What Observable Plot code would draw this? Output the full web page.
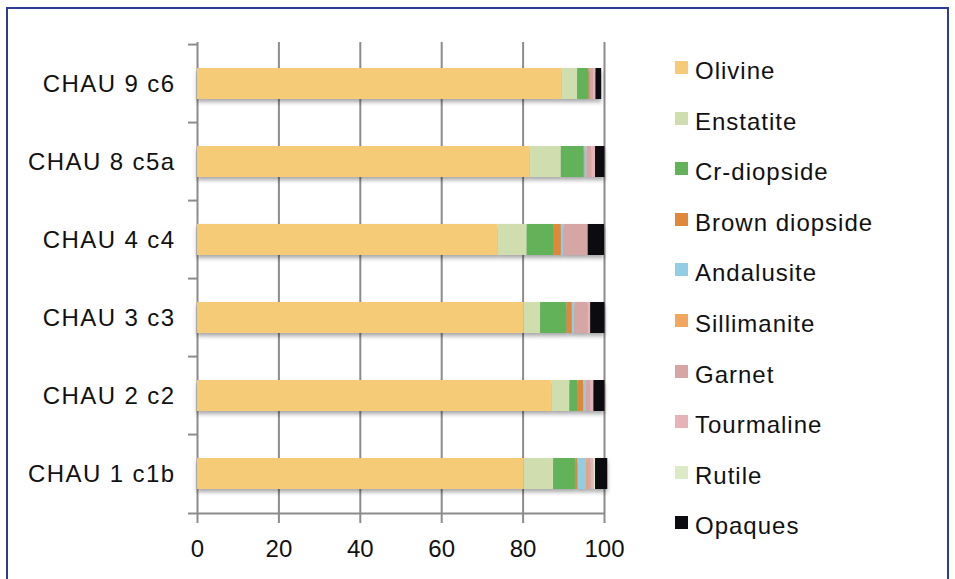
<!DOCTYPE html>
<html><head><meta charset="utf-8">
<script src="https://cdn.jsdelivr.net/npm/d3@7"></script>
<script src="https://cdn.jsdelivr.net/npm/@observablehq/plot@0.6"></script>
<style>
body{margin:0;background:#fff;}
#wrap{position:relative;width:955px;height:579px;overflow:hidden;font-family:"Liberation Sans",Arial,sans-serif;background:#fff;}
#wrap svg{position:absolute;left:0;top:0;}
#border{position:absolute;left:6px;top:7px;width:943px;height:620px;border:2px solid #2E3D98;box-sizing:border-box;}
.li{position:absolute;left:675px;height:30px;}
.sw{position:absolute;left:0;top:0;width:13px;height:13px;}
.lt{position:absolute;left:20px;top:-4px;font-size:24px;line-height:28px;color:#111;white-space:nowrap;letter-spacing:1px;}
</style>
</head><body>
<div id="wrap"><div id="border"></div></div>
<script>
const samples = ["CHAU 9 c6","CHAU 8 c5a","CHAU 4 c4","CHAU 3 c3","CHAU 2 c2","CHAU 1 c1b"];
const minerals = ["Olivine","Enstatite","Cr-diopside","Brown diopside","Andalusite","Sillimanite","Garnet","Tourmaline","Rutile","Opaques"];
const colors = ["#F5CB78","#CFDDAF","#62B25A","#E0873A","#92CDE6","#F2A65E","#D6A6A4","#E6B3B6","#DDEAC6","#0B0B10"];
const xTicks = [0,20,40,60,80,100];

// values per mineral, aligned with samples (top to bottom)
const olivine       = [89.6, 81.7, 73.8, 80.3, 87.1, 80.3];
const enstatite     = [3.8, 7.7, 7.2, 4.0, 4.4, 7.2];
const crDiopside    = [2.8, 5.5, 6.5, 6.5, 2.0, 5.5];
const brownDiopside = [0.3, 0.3, 1.9, 1.3, 1.4, 0.5];
const andalusite    = [0.0, 0.5, 0.6, 0.6, 0.7, 2.1];
const sillimanite   = [0.0, 0.0, 0.0, 0.0, 0.0, 0.3];
const garnet        = [0.8, 1.2, 6.0, 3.3, 1.0, 0.8];
const tourmaline    = [0.6, 0.9, 0.0, 0.6, 0.8, 0.7];
const rutile        = [0.0, 0.0, 0.0, 0.0, 0.0, 0.4];
const opaques       = [1.4, 2.3, 4.0, 3.5, 2.7, 3.0];
const series = [olivine, enstatite, crDiopside, brownDiopside, andalusite, sillimanite, garnet, tourmaline, rutile, opaques];

const rows = samples.flatMap((s, i) => minerals.map((m, j) => ({sample: s, mineral: m, value: series[j][i]})));

const W = 955, H = 579, mT = 42, mB = 64, mL = 197, mR = 351;
const step = (H - mT - mB) / samples.length;
const axisGray = "#8c8c8c";
const font = "'Liberation Sans', Arial, sans-serif";

const chart = Plot.plot({
  width: W, height: H,
  marginTop: mT, marginBottom: mB, marginLeft: mL, marginRight: mR,
  x: {domain: [0, 100]},
  y: {domain: samples, paddingInner: 0.6, paddingOuter: 0.3},
  color: {domain: minerals, range: colors},
  style: {fontFamily: font, fontSize: "24px", color: "#111", background: "transparent"},
  marks: [
    Plot.gridX(xTicks, {stroke: axisGray, strokeOpacity: 1, strokeWidth: 2}),
    Plot.barX(rows, {x: "value", y: "sample", fill: "mineral"}),
    Plot.ruleY(samples, {y: d => d, x1: -2.2, x2: 0, dy: -step / 2, stroke: axisGray, strokeWidth: 2}),
    Plot.ruleY([samples[samples.length - 1]], {y: d => d, x1: -2.2, x2: 100, dy: step / 2, stroke: axisGray, strokeWidth: 2}),
    Plot.axisX(xTicks, {tickSize: 8, tickPadding: 16, stroke: axisGray, strokeWidth: 2, fill: "#111", fontSize: 24, label: null}),
    Plot.axisY({tickSize: 0, tickPadding: 22, fill: "#111", fontSize: 24, label: null})
  ]
});
const bars = chart.querySelector('g[aria-label="bar"]');
if (bars) bars.style.filter = "drop-shadow(0px 3px 2px rgba(0,0,0,0.35))";
const yLabels = chart.querySelector('g[aria-label="y-axis tick label"]');
if (yLabels) yLabels.style.letterSpacing = "1.4px";
document.getElementById("wrap").appendChild(chart);

const legend = d3.select("#wrap").selectAll("div.li").data(minerals).join("div")
  .attr("class", "li")
  .style("top", (d, i) => (61 + i * 50.6) + "px");
legend.append("div").attr("class", "sw").style("background", (d, i) => colors[i]);
legend.append("div").attr("class", "lt").text(d => d);
</script>
</body></html>
